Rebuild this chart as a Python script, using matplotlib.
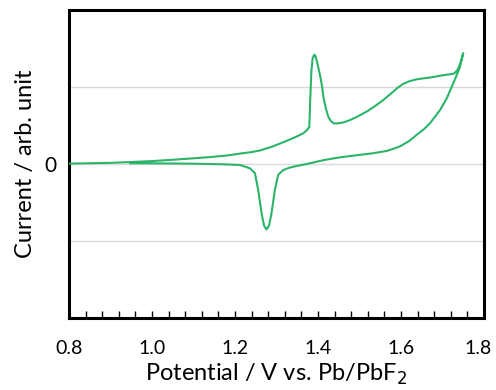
import numpy as np
import matplotlib
matplotlib.use("Agg")
import matplotlib.pyplot as plt
import matplotlib.transforms as mtransforms
from matplotlib.ticker import MultipleLocator

plt.rcParams['font.family'] = ['Lato', 'DejaVu Sans']

# anodic branch (0.8 V -> 1.75 V)
up_x = [0.800, 0.850, 0.900, 0.947, 1.000, 1.050, 1.100, 1.140, 1.180, 1.212,
        1.240, 1.260, 1.292, 1.315, 1.333, 1.350, 1.365, 1.373, 1.379, 1.381,
        1.384, 1.387, 1.391, 1.394, 1.398, 1.402, 1.405, 1.410, 1.413, 1.419,
        1.425, 1.431, 1.437, 1.445, 1.461, 1.477, 1.493, 1.517, 1.537, 1.557,
        1.577, 1.592, 1.605, 1.620, 1.638, 1.658, 1.678, 1.698, 1.718, 1.728,
        1.736, 1.743, 1.750]
up_y = [0.005, 0.010, 0.015, 0.025, 0.038, 0.055, 0.074, 0.090, 0.110, 0.135,
        0.155, 0.175, 0.230, 0.280, 0.320, 0.360, 0.400, 0.440, 0.480, 0.800,
        1.200, 1.370, 1.420, 1.400, 1.320, 1.220, 1.150, 1.000, 0.870, 0.720,
        0.610, 0.560, 0.530, 0.525, 0.540, 0.570, 0.610, 0.680, 0.750, 0.830,
        0.920, 0.990, 1.040, 1.075, 1.100, 1.115, 1.130, 1.150, 1.165, 1.175,
        1.220, 1.310, 1.440]

# cathodic branch (1.75 V -> 0.95 V)
dn_x = [1.750, 1.742, 1.734, 1.726, 1.710, 1.694, 1.670, 1.655, 1.638, 1.620,
        1.598, 1.580, 1.566, 1.533, 1.500, 1.453, 1.413, 1.373, 1.345, 1.330,
        1.316, 1.304, 1.296, 1.288, 1.282, 1.276, 1.270, 1.264, 1.256, 1.248,
        1.236, 1.212, 1.175, 1.140, 1.100, 1.050, 1.000, 0.947]
dn_y = [1.440, 1.260, 1.150, 1.050, 0.850, 0.700, 0.530, 0.450, 0.380, 0.300,
        0.230, 0.195, 0.170, 0.140, 0.118, 0.087, 0.050, 0.000, -0.030, -0.050,
        -0.080, -0.140, -0.340, -0.640, -0.800, -0.850, -0.800, -0.640, -0.340, -0.120,
        -0.056, -0.013, -0.004, 0.000, 0.004, 0.007, 0.009, 0.010]

xticks = [0.8, 1.0, 1.2, 1.4, 1.6, 1.8]
xtick_labels = ["0.8", "1.0", "1.2", "1.4", "1.6", "1.8"]

green = "#2bb56a"

fig = plt.figure(figsize=(4.96, 3.90), dpi=100)
ax = fig.add_axes([69 / 496, 1 - 318 / 390, 415 / 496, 308 / 390])

for yg in [-1, 0, 1]:
    ax.axhline(yg, color="#d9d9d9", lw=1.0, zorder=1)

ax.plot(up_x + dn_x, up_y + dn_y, color=green, lw=1.5, zorder=3)

ax.set_xlim(0.8, 1.8)
ax.set_ylim(-2, 2)
ax.set_xticks(xticks)
ax.set_xticklabels(xtick_labels)
ax.xaxis.set_minor_locator(MultipleLocator(0.04))
ax.tick_params(axis="x", which="both", direction="in", length=5, width=1,
               labelsize=14, pad=16)
ax.set_yticks([0])
ax.set_yticklabels(["0"])
ax.tick_params(axis="y", length=0, labelsize=15, pad=9)

for s in ax.spines.values():
    s.set_linewidth(2.2)

ax.set_xlabel("Potential / V vs. Pb/PbF$_2$", fontsize=17, labelpad=3)
ax.set_ylabel("Current / arb. unit", fontsize=17, labelpad=6)

# nudge the last x label in so it stays inside the figure
lab = ax.xaxis.get_major_ticks()[-1].label1
lab.set_transform(lab.get_transform() +
                  mtransforms.ScaledTranslation(-4 / 72, 0, fig.dpi_scale_trans))

fig.savefig("out.png", dpi=100)
